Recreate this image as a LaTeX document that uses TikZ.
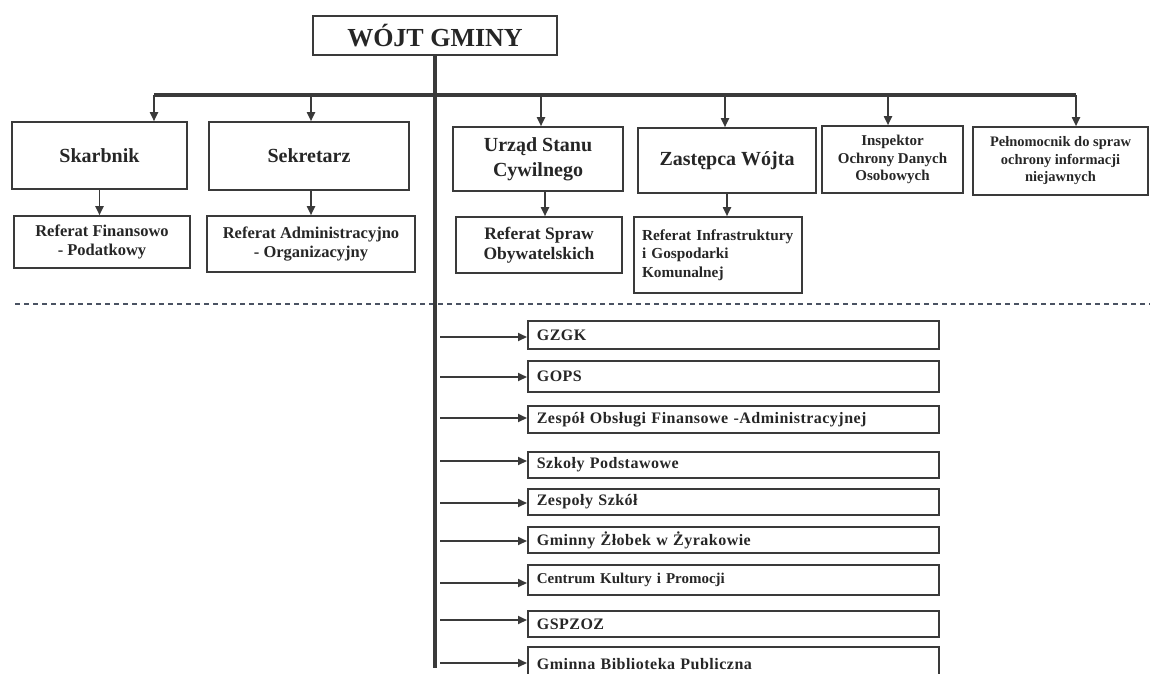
\documentclass[tikz,border=0pt]{standalone}
\usepackage{fontspec}
\setmainfont{Liberation Serif}
\newfontfamily\widefont[LetterSpace=3]{Liberation Serif}
\usetikzlibrary{arrows.meta}
\definecolor{ink}{HTML}{262626}
\definecolor{edge}{HTML}{3A3A3A}
\definecolor{dashc}{HTML}{4A5262}
\begin{document}
\begin{tikzpicture}[x=1pt,y=-1pt,
  box/.style={draw=edge, line width=1.6pt, inner sep=0pt, text=ink, align=center},
  listbox/.style={draw=edge, line width=1.7pt, inner xsep=9pt, inner ysep=0pt,
    text width=393pt, align=left, text=ink, anchor=west},
  listfont/.style={font=\widefont\bfseries\fontsize{16}{18}\selectfont},
  arr/.style={draw=edge, line width=1.8pt, -{Triangle[length=9pt,width=8pt]}},
  trunkline/.style={draw=edge, line width=4pt},
  dashline/.style={draw=dashc, line width=1.4pt, dash pattern=on 5pt off 4pt}
]
\useasboundingbox (0,0) rectangle (1150,673);
\clip (0,0) rectangle (1150,673);

% top
\node[box, minimum width=244pt, minimum height=39pt,
  font=\bfseries\fontsize{26}{30}\selectfont] (wojt) at (435,35.5) {WÓJT GMINY};

% first level
\node[box, minimum width=175pt, minimum height=67pt,
  font=\bfseries\fontsize{20}{25}\selectfont] (skarbnik) at (99.5,155.5) {Skarbnik};
\node[box, minimum width=200pt, minimum height=68pt,
  font=\bfseries\fontsize{20}{25}\selectfont] (sekretarz) at (309,156) {Sekretarz};
\node[box, minimum width=170pt, minimum height=64pt,
  font=\bfseries\fontsize{20}{25}\selectfont] (usc) at (538,159) {Urząd Stanu\\Cywilnego};
\node[box, minimum width=178pt, minimum height=65pt,
  font=\bfseries\fontsize{20}{25}\selectfont] (zastepca) at (727,160.5) {Zastępca Wójta};
\node[box, minimum width=141pt, minimum height=67pt,
  font=\bfseries\fontsize{15}{17.5}\selectfont] (inspektor) at (892.5,159.5) {Inspektor\\Ochrony Danych\\Osobowych};
\node[box, minimum width=175pt, minimum height=68pt,
  font=\bfseries\fontsize{14.5}{17.5}\selectfont] (pelnomocnik) at (1060.5,161) {Pełnomocnik do spraw\\ochrony informacji\\niejawnych};

% second level
\node[box, minimum width=176pt, minimum height=52pt,
  font=\bfseries\fontsize{16.5}{18.5}\selectfont] (reffin) at (102,242) {Referat Finansowo\\- Podatkowy};
\node[box, minimum width=208pt, minimum height=56pt,
  font=\bfseries\fontsize{16.5}{18.5}\selectfont] (refadm) at (311,244) {Referat Administracyjno\\- Organizacyjny};
\node[box, minimum width=166pt, minimum height=56pt,
  font=\bfseries\fontsize{17.5}{19.5}\selectfont] (refspraw) at (539,245) {Referat Spraw\\Obywatelskich};
\node[box, minimum width=168pt, minimum height=76pt, align=left, text width=152pt, inner xsep=8pt,
  font=\bfseries\fontsize{15.3}{18.5}\selectfont] (refinfra) at (718,255) {Referat Infrastruktury\\i Gospodarki\\Komunalnej};

% dashed separator
\coordinate (dl) at (15,304);
\coordinate (dr) at (1150,304);
\draw[dashline] (dl) -- (dr);

% list boxes
\node[listbox, listfont, minimum height=28pt] (gzgk) at (527,335) {GZGK};
\node[listbox, listfont, minimum height=31pt] (gops) at (527,376.5) {GOPS};
\node[listbox, listfont, minimum height=27pt] (zfa) at (527,419.5) {Zespół Obsługi Finansowe -Administracyjnej};
\node[listbox, listfont, minimum height=26pt] (szkoly) at (527,465) {Szkoły Podstawowe};
\node[listbox, listfont, minimum height=26pt] (zespoly) at (527,502) {Zespoły Szkół};
\node[listbox, listfont, minimum height=26pt] (zlobek) at (527,540) {Gminny Żłobek w Żyrakowie};
\node[listbox, minimum height=30pt, font=\bfseries\fontsize{15}{17}\selectfont] (centrum) at (527,580) {Centrum Kultury i Promocji};
\node[listbox, listfont, minimum height=26pt] (gspzoz) at (527,624) {GSPZOZ};
\node[listbox, listfont, minimum height=34pt] (biblio) at (527,664) {Gminna Biblioteka Publiczna};

% trunk and bar
\coordinate (bottom) at (0,668);
\draw[trunkline] (wojt.south) -- (wojt.south |- bottom);
\coordinate (b1) at (154,95);
\coordinate (b2) at (311,95);
\coordinate (b3) at (541,95);
\coordinate (b4) at (725,95);
\coordinate (b5) at (888,95);
\coordinate (b6) at (1076,95);
\draw[trunkline] (b1) -- (b6);
\draw[arr] (b1) -- (b1 |- skarbnik.north);
\draw[arr] (b2) -- (b2 |- sekretarz.north);
\draw[arr] (b3) -- (b3 |- usc.north);
\draw[arr] (b4) -- (b4 |- zastepca.north);
\draw[arr] (b5) -- (b5 |- inspektor.north);
\draw[arr] (b6) -- (b6 |- pelnomocnik.north);

% second level arrows
\draw[arr] (skarbnik.south) -- (skarbnik.south |- reffin.north);
\draw[arr] ([xshift=2pt]sekretarz.south) -- ([xshift=2pt]sekretarz.south |- refadm.north);
\draw[arr] ([xshift=7pt]usc.south) -- ([xshift=7pt]usc.south |- refspraw.north);
\draw[arr] (zastepca.south) -- (zastepca.south |- refinfra.north);

% list arrows
\foreach \n/\yy in {gzgk/337, gops/377, zfa/418, szkoly/461, zespoly/503, zlobek/541, centrum/583, gspzoz/620, biblio/663}{
  \coordinate (tap-\n) at (440,\yy);
  \draw[arr] (tap-\n) -- (tap-\n -| \n.west);
}
\end{tikzpicture}
\end{document}
